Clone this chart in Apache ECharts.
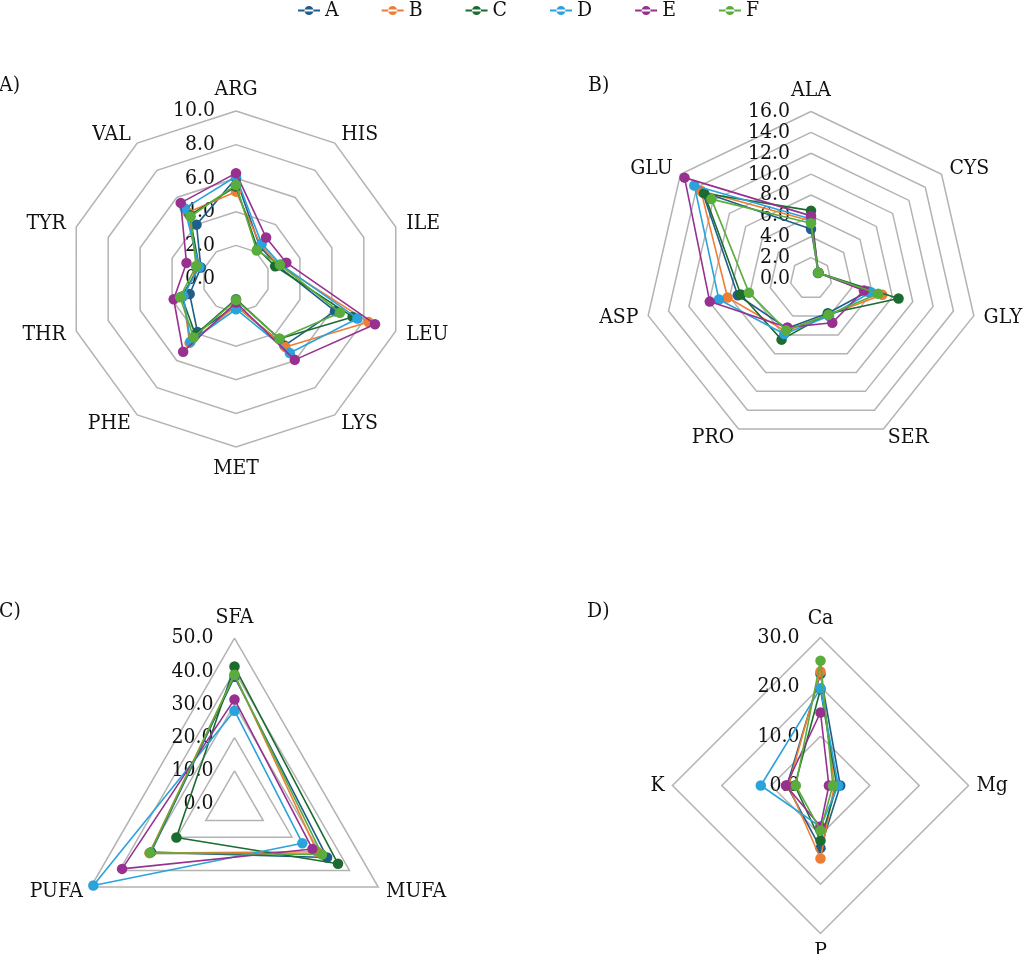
<!DOCTYPE html>
<html><head><meta charset="utf-8">
<script src="https://cdn.jsdelivr.net/npm/echarts@6/dist/echarts.min.js"></script>
<style>html,body{margin:0;padding:0;background:#fff}#c{width:1024px;height:954px}</style>
</head><body><div id="c"></div>
<script>
// ---- data ----
const groups = ['A', 'B', 'C', 'D', 'E', 'F'];
const groupColors = ['#1f5d8a', '#ee7d35', '#1c6b30', '#2aa3dc', '#97308f', '#5aad3c'];
const panelLabels = ['A)', 'B)', 'C)', 'D)'];

// Panel A – essential amino acids
const axesA = ['ARG', 'HIS', 'ILE', 'LEU', 'LYS', 'MET', 'PHE', 'THR', 'TYR', 'VAL'];
const ticksA = [0, 2, 4, 6, 8, 10];
const aA = [6.0, 2.4, 2.6, 6.2, 4.9, 1.6, 3.9, 2.9, 2.2, 4.0];
const aB = [5.2, 2.5, 2.7, 8.3, 5.0, 1.6, 4.7, 3.3, 2.4, 4.9];
const aC = [5.5, 2.2, 2.45, 7.3, 4.4, 1.2, 4.1, 3.4, 2.3, 4.7];
const aD = [6.1, 2.6, 2.8, 7.6, 5.45, 1.8, 4.6, 3.3, 2.3, 5.2];
const aE = [6.3, 3.05, 3.15, 8.7, 5.95, 1.4, 5.35, 3.9, 3.1, 5.6];
const aF = [5.6, 2.1, 2.75, 6.5, 4.4, 1.25, 4.3, 3.5, 2.5, 4.6];

// Panel B – non-essential amino acids
const axesB = ['ALA', 'CYS', 'GLY', 'SER', 'PRO', 'ASP', 'GLU'];
const ticksB = [0, 2, 4, 6, 8, 10, 12, 14, 16];
const bA = [4.75, 0.9, 5.6, 3.7, 5.3, 7.2, 13.3];
const bB = [5.5, 0.85, 7.0, 3.9, 5.6, 8.2, 13.5];
const bC = [6.5, 0.9, 8.6, 3.75, 6.5, 6.9, 13.1];
const bD = [5.7, 0.85, 5.9, 4.0, 5.9, 9.05, 14.3];
const bE = [6.0, 0.9, 5.2, 4.7, 5.2, 9.95, 15.5];
const bF = [5.3, 0.9, 6.6, 3.85, 5.5, 6.1, 12.2];

// Panel C – fatty acids
const axesC = ['SFA', 'MUFA', 'PUFA'];
const ticksC = [0, 10, 20, 30, 40, 50];
const cA = [38.3, 32.2, 29.0];
const cB = [39.0, 28.8, 29.6];
const cC = [41.4, 36.0, 20.2];
const cD = [28.1, 23.6, 49.1];
const cE = [31.5, 27.1, 39.1];
const cF = [38.9, 30.4, 29.4];

// Panel D – minerals
const axesD = ['Ca', 'Mg', 'P', 'K'];
const ticksD = [0, 10, 20, 30];
const dA = [22.6, 4.0, 12.7, 6.8];
const dB = [23.1, 2.8, 14.8, 6.5];
const dC = [19.5, 3.3, 11.2, 5.2];
const dD = [19.7, 3.6, 8.4, 12.1];
const dE = [14.8, 1.7, 8.3, 7.0];
const dF = [25.3, 2.5, 9.1, 5.0];

// ---- chart ----
const FONT = '"DejaVu Serif Condensed", "DejaVu Serif", serif';
const FS = 21;
const TXT = '#111';
const panels = [
  { axes: axesA, ticks: ticksA, values: [aA, aB, aC, aD, aE, aF], center: [236, 279], radius: 168, gap: 11, title: [-1, 75] },
  { axes: axesB, ticks: ticksB, values: [bA, bB, bC, bD, bE, bF], center: [811, 278.5], radius: 167, gap: 10, title: [588, 75] },
  { axes: axesC, ticks: ticksC, values: [cA, cB, cC, cD, cE, cF], center: [234.5, 804], radius: 166, gap: 9, title: [-1, 601] },
  { axes: axesD, ticks: ticksD, values: [dA, dB, dC, dD, dE, dF], center: [820.5, 785.5], radius: 148, gap: 8, title: [587, 601] }
];

// ECharts lays indicators counter-clockwise; reorder so they read clockwise like the source
function cw(arr) { return [arr[0]].concat(arr.slice(1).reverse()); }

const radars = [];
const series = [];
panels.forEach((p, pi) => {
  const maxV = p.ticks[p.ticks.length - 1];
  const ind = cw(p.axes).map((n, i) => {
    const o = { name: n, max: maxV, min: p.ticks[0] };
    if (i === 0) o.axisLabel = { show: true };
    return o;
  });
  radars.push({
    center: p.center,
    radius: p.radius,
    startAngle: 90,
    splitNumber: p.ticks.length - 1,
    shape: 'polygon',
    indicator: ind,
    nameGap: p.gap,
    axisName: { color: TXT, fontFamily: FONT, fontSize: FS },
    axisLine: { show: false },
    axisTick: { show: false },
    splitArea: { show: false },
    splitLine: { lineStyle: { color: '#b3b3b3', width: 1.5 } },
    axisLabel: { show: false, color: TXT, fontFamily: FONT, fontSize: FS, margin: 21,
      formatter: v => Number(v).toFixed(1) }
  });
  groups.forEach((g, gi) => {
    series.push({
      type: 'radar',
      radarIndex: pi,
      name: g,
      symbol: 'circle',
      symbolSize: 10.5,
      z: 2 + gi,
      itemStyle: { color: groupColors[gi] },
      lineStyle: { color: groupColors[gi], width: 1.6 },
      emphasis: { disabled: true },
      data: [{ name: g, value: cw(p.values[gi]),
        itemStyle: { color: groupColors[gi] },
        lineStyle: { color: groupColors[gi], width: 1.6 } }]
    });
  });
});

const chart = echarts.init(document.getElementById('c'), null, { renderer: 'canvas' });
chart.setOption({
  animation: false,
  backgroundColor: '#fff',
  color: groupColors,
  title: panels.map((p, i) => ({
    text: panelLabels[i], left: p.title[0], top: p.title[1], padding: 0,
    textStyle: { color: TXT, fontFamily: FONT, fontSize: FS, fontWeight: 'normal' }
  })),
  legend: {
    data: groups,
    left: 298, top: 0, padding: [0, 0],
    itemGap: 43,
    itemWidth: 22, itemHeight: 9,
    icon: 'path://M0,3.6H22V5.4H0Z M6.5,4.5 A4.5,4.5 0 1 0 15.5,4.5 A4.5,4.5 0 1 0 6.5,4.5Z',
    textStyle: { color: TXT, fontFamily: FONT, fontSize: FS },
    selectedMode: false
  },
  radar: radars,
  series: series
});
</script>
</body></html>
